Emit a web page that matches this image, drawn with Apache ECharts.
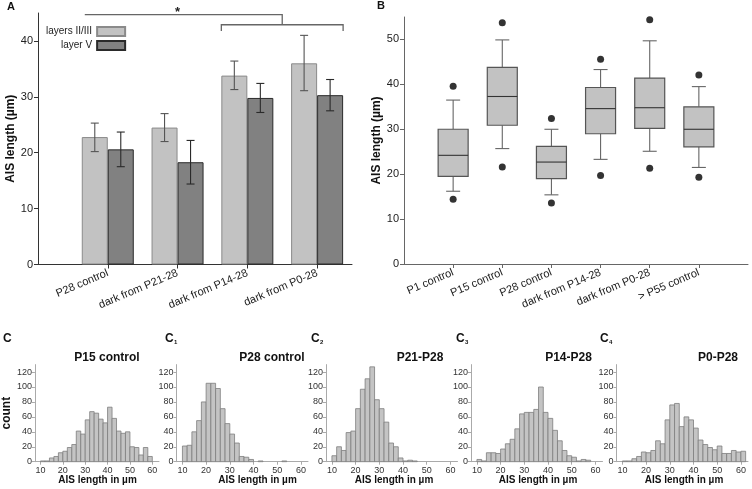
<!DOCTYPE html>
<html><head><meta charset="utf-8">
<script src="https://cdn.jsdelivr.net/npm/echarts@6/dist/echarts.min.js"></script>
<style>html,body{margin:0;padding:0;background:#fff}#c{width:752px;height:489px}</style>
</head><body><div id="c"></div>
<script>
const FONT = "'Liberation Sans', Arial, Helvetica, sans-serif";

// ---------- Panel A: mean AIS length with error bars ----------
const groupsA = ['P28 control', 'dark from P21-28', 'dark from P14-28', 'dark from P0-28'];
const layer23Mean  = [22.8, 24.5, 33.8, 36.0];
const layer23Upper = [25.3, 27.0, 36.4, 41.0];
const layer23Lower = [20.2, 22.0, 31.3, 31.1];
const layer5Mean   = [20.6, 18.3, 29.8, 30.3];
const layer5Upper  = [23.7, 22.2, 32.4, 33.1];
const layer5Lower  = [17.5, 14.4, 27.2, 27.5];
const ticksA = [0, 10, 20, 30, 40];

// ---------- Panel B: box plots ----------
const groupsB = ['P1 control', 'P15 control', 'P28 control', 'dark from P14-28', 'dark from P0-28', '> P55 control'];
const boxMin    = [16.2, 25.7, 15.4, 23.3, 25.1, 21.5];
const boxQ1     = [19.5, 30.9, 19.0, 29.0, 30.2, 26.1];
const boxMedian = [24.2, 37.3, 22.7, 34.6, 34.8, 30.0];
const boxQ3     = [30.0, 43.8, 26.2, 39.3, 41.4, 35.0];
const boxMax    = [36.5, 49.9, 30.0, 43.3, 49.7, 39.5];
const outlierHigh = [39.6, 53.7, 32.4, 45.6, 54.4, 42.1];
const outlierLow  = [14.4, 21.6, 13.6, 19.7, 21.3, 19.3];
const ticksB = [0, 10, 20, 30, 40, 50];

// ---------- Panels C–C4: histograms (2 µm bins starting at 10 µm) ----------
const histTitles = ['P15 control', 'P28 control', 'P21-P28', 'P14-P28', 'P0-P28'];
const histSubs = ['', '1', '2', '3', '4'];
const binStart = 10;
const binWidth = 2;
const countsP15ctrl = [1, 1, 5, 7, 12, 14, 19, 23, 41, 37, 56, 67, 65, 57, 52, 73, 58, 41, 38, 40, 20, 19, 9, 19, 7];
const countsP28ctrl = [21, 22, 40, 55, 80, 105, 105, 98, 71, 51, 37, 25, 7, 6, 3, 0, 1, 0, 0, 0, 0, 1, 0, 0, 0];
const countsP21P28  = [8, 20, 15, 39, 41, 71, 97, 111, 127, 83, 71, 53, 25, 20, 5, 1, 2, 1, 0, 0, 0, 0, 0, 0, 0];
const countsP14P28  = [3, 1, 12, 12, 11, 17, 24, 30, 44, 64, 66, 66, 70, 100, 66, 58, 42, 28, 15, 8, 6, 1, 3, 2, 0];
const countsP0P28   = [1, 1, 4, 7, 13, 12, 15, 28, 24, 56, 76, 78, 47, 60, 56, 45, 29, 23, 19, 16, 21, 11, 11, 15, 13, 14];
const histCounts = [countsP15ctrl, countsP28ctrl, countsP21P28, countsP14P28, countsP0P28];
const histXTicks = [10, 20, 30, 40, 50, 60];
const histYTicks = [0, 20, 40, 60, 80, 100, 120];

// ---------- layout ----------
const histLefts = [27.5, 176.5, 326, 471, 616.5];
const histTitleX = [107, 272, 420, 568.5, 718];
const histNameX = [97.5, 257.5, 394, 538, 684];
const histLetterX = [3, 165, 311, 456, 600];

const chart = echarts.init(document.getElementById('c'));

const grids = [
  { left: 38, top: 13, width: 314, height: 251.5 },
  { left: 404, top: 17, width: 344, height: 247 }
];
histLefts.forEach(l => grids.push({ left: l, top: 364.6, width: 131.5, height: 97.1 }));

const catLabel = { fontSize: 11, color: '#222', fontFamily: FONT, rotate: 23, margin: 8 };
const xAxes = [
  { gridIndex: 0, type: 'value', min: 0, max: 4.5,
    axisLine: { lineStyle: { color: '#333' } },
    axisTick: { customValues: [1, 2, 3, 4], length: 4, lineStyle: { color: '#333' } },
    axisLabel: Object.assign({ customValues: [1, 2, 3, 4], formatter: v => groupsA[Math.round(v) - 1] || '' }, catLabel),
    splitLine: { show: false } },
  { gridIndex: 1, type: 'value', min: 0, max: 7,
    axisLine: { lineStyle: { color: '#666' } },
    axisTick: { customValues: [1, 2, 3, 4, 5, 6], length: 4, lineStyle: { color: '#666' } },
    axisLabel: Object.assign({ customValues: [1, 2, 3, 4, 5, 6], formatter: v => groupsB[Math.round(v) - 1] || '' }, catLabel),
    splitLine: { show: false } }
];
const yAxes = [
  { gridIndex: 0, type: 'value', min: 0, max: 45,
    name: 'AIS length (µm)', nameLocation: 'middle', nameGap: 17,
    nameTextStyle: { fontSize: 12, fontWeight: 'bold', color: '#111', fontFamily: FONT },
    axisLine: { show: true, lineStyle: { color: '#333' } },
    axisTick: { show: true, customValues: ticksA, length: 4, lineStyle: { color: '#333' } },
    axisLabel: { customValues: ticksA, fontSize: 11, color: '#222', fontFamily: FONT, margin: 5 },
    splitLine: { show: false } },
  { gridIndex: 1, type: 'value', min: 0, max: 55,
    name: 'AIS length (µm)', nameLocation: 'middle', nameGap: 18,
    nameTextStyle: { fontSize: 12, fontWeight: 'bold', color: '#111', fontFamily: FONT },
    axisLine: { show: true, lineStyle: { color: '#666' } },
    axisTick: { show: true, customValues: ticksB, length: 4, lineStyle: { color: '#666' } },
    axisLabel: { customValues: ticksB, fontSize: 11, color: '#222', fontFamily: FONT, margin: 5 },
    splitLine: { show: false } }
];
histLefts.forEach((l, i) => {
  xAxes.push({ gridIndex: i + 2, type: 'value', min: 7.5, max: 63,
    axisLine: { lineStyle: { color: '#aaa' } },
    axisTick: { customValues: histXTicks, length: 3, lineStyle: { color: '#aaa' } },
    axisLabel: { customValues: histXTicks, fontSize: 9, color: '#333', fontFamily: FONT, margin: 4 },
    splitLine: { show: false } });
  yAxes.push({ gridIndex: i + 2, type: 'value', min: 0, max: 130,
    name: i === 0 ? 'count' : '', nameLocation: 'middle', nameGap: 14,
    nameTextStyle: { fontSize: 12, fontWeight: 'bold', color: '#111', fontFamily: FONT },
    axisLine: { show: true, lineStyle: { color: '#aaa' } },
    axisTick: { show: true, customValues: histYTicks, length: 3, lineStyle: { color: '#aaa' } },
    axisLabel: { customValues: histYTicks, fontSize: 9, color: '#333', fontFamily: FONT, margin: 3 },
    splitLine: { show: false } });
});

function errorBarSeries(name, lower, upper, offset, color) {
  return {
    type: 'custom', name: name + ' err', xAxisIndex: 0, yAxisIndex: 0, z: 5,
    data: lower.map((lo, i) => [i + 1, lo, upper[i]]),
    renderItem: (params, api) => {
      const x = api.value(0);
      const top = api.coord([x, api.value(2)]);
      const bot = api.coord([x, api.value(1)]);
      const cx = top[0] + offset, hw = 4;
      const st = { stroke: color, lineWidth: 1.1 };
      return { type: 'group', children: [
        { type: 'line', shape: { x1: cx, y1: top[1], x2: cx, y2: bot[1] }, style: st },
        { type: 'line', shape: { x1: cx - hw, y1: top[1], x2: cx + hw, y2: top[1] }, style: st },
        { type: 'line', shape: { x1: cx - hw, y1: bot[1], x2: cx + hw, y2: bot[1] }, style: st }
      ] };
    }
  };
}

const series = [
  { type: 'bar', name: 'layers II/III', xAxisIndex: 0, yAxisIndex: 0, barWidth: 26, barGap: '0%',
    itemStyle: { color: '#c2c2c2', borderColor: '#8a8a8a', borderWidth: 1 },
    data: layer23Mean.map((v, i) => [i + 1, v]) },
  { type: 'bar', name: 'layer V', xAxisIndex: 0, yAxisIndex: 0, barWidth: 26, barGap: '0%',
    itemStyle: { color: '#818181', borderColor: '#2a2a2a', borderWidth: 1 },
    data: layer5Mean.map((v, i) => [i + 1, v]) },
  errorBarSeries('layers II/III', layer23Lower, layer23Upper, -13, '#555'),
  errorBarSeries('layer V', layer5Lower, layer5Upper, 13, '#2a2a2a'),
  { type: 'custom', name: 'box', xAxisIndex: 1, yAxisIndex: 1,
    data: boxMin.map((v, i) => [i + 1, v, boxQ1[i], boxMedian[i], boxQ3[i], boxMax[i]]),
    renderItem: (params, api) => {
      const x = api.value(0);
      const P = v => api.coord([x, v]);
      const cx = P(api.value(3))[0];
      const yMin = P(api.value(1))[1], yQ1 = P(api.value(2))[1], yMed = P(api.value(3))[1],
            yQ3 = P(api.value(4))[1], yMax = P(api.value(5))[1];
      const hb = 15, hc = 7;
      const ws = { stroke: '#666', lineWidth: 1.1 };
      return { type: 'group', children: [
        { type: 'line', shape: { x1: cx, y1: yQ3, x2: cx, y2: yMax }, style: ws },
        { type: 'line', shape: { x1: cx, y1: yQ1, x2: cx, y2: yMin }, style: ws },
        { type: 'line', shape: { x1: cx - hc, y1: yMax, x2: cx + hc, y2: yMax }, style: ws },
        { type: 'line', shape: { x1: cx - hc, y1: yMin, x2: cx + hc, y2: yMin }, style: ws },
        { type: 'rect', shape: { x: cx - hb, y: yQ3, width: 2 * hb, height: yQ1 - yQ3 },
          style: { fill: '#c2c2c2', stroke: '#555', lineWidth: 1.2 } },
        { type: 'line', shape: { x1: cx - hb, y1: yMed, x2: cx + hb, y2: yMed }, style: { stroke: '#333', lineWidth: 1.1 } }
      ] };
    } },
  { type: 'scatter', name: 'outliers', xAxisIndex: 1, yAxisIndex: 1, symbolSize: 7,
    itemStyle: { color: '#000' },
    data: outlierHigh.map((v, i) => [i + 1, v]).concat(outlierLow.map((v, i) => [i + 1, v])) }
];
histCounts.forEach((counts, k) => {
  series.push({
    type: 'custom', name: 'hist' + k, xAxisIndex: k + 2, yAxisIndex: k + 2,
    data: counts.map((c, i) => [binStart + i * binWidth, c]),
    renderItem: (params, api) => {
      const x0 = api.value(0), c = api.value(1);
      if (!c) return null;
      const p0 = api.coord([x0, 0]);
      const p1 = api.coord([x0 + binWidth, c]);
      return { type: 'rect', shape: { x: p0[0], y: p1[1], width: p1[0] - p0[0], height: p0[1] - p1[1] },
        style: { fill: '#c4c4c4', stroke: '#7d7d7d', lineWidth: 0.8 } };
    }
  });
});

const texts = [];
function txt(text, x, y, font, align, vAlign, fill) {
  texts.push({ type: 'text', x: x, y: y, silent: true, z: 10,
    style: { text: text, font: font, fill: fill || '#111', align: align || 'left', verticalAlign: vAlign || 'middle' } });
}
txt('A', 7, 7, 'bold 11px ' + FONT);
txt('B', 377, 6, 'bold 11px ' + FONT);
histTitles.forEach((t, i) => {
  txt('C', histLetterX[i], 339, 'bold 12px ' + FONT);
  if (histSubs[i]) txt(histSubs[i], histLetterX[i] + 9, 345, 'bold 6px ' + FONT, 'left', 'bottom');
  txt(t, histTitleX[i], 357.5, 'bold 12px ' + FONT, 'center');
  txt('AIS length in µm', histNameX[i], 480, 'bold 10px ' + FONT, 'center');
});

const option = {
  animation: false,
  backgroundColor: '#fff',
  textStyle: { fontFamily: FONT },
  grid: grids,
  xAxis: xAxes,
  yAxis: yAxes,
  legend: {
    data: ['layers II/III', 'layer V'], orient: 'vertical', align: 'right',
    left: 46, top: 26, padding: 0, itemWidth: 28, itemHeight: 9, itemGap: 3,
    icon: 'rect', selectedMode: false,
    textStyle: { fontSize: 10, color: '#222', fontFamily: FONT }
  },
  series: series,
  graphic: texts
};
chart.setOption(option);

// significance bracket in panel A, positioned from the axis scale
const pA = (x, y) => chart.convertToPixel({ gridIndex: 0 }, [x, y]);
const g1 = pA(1, 0)[0], g2 = pA(2, 0)[0], g3 = pA(3, 0)[0], g4 = pA(4, 0)[0];
const yTop = pA(0, 44.7)[1], yBr = pA(0, 42.9)[1], yTk = pA(0, 41.8)[1];
const mid = (g3 + g4) / 2;
const bs = { stroke: '#666', lineWidth: 1.3 };
const bracket = [
  { type: 'polyline', silent: true, shape: { points: [[g1 - 23, yTop], [mid, yTop], [mid, yBr]] }, style: Object.assign({ fill: null }, bs) },
  { type: 'polyline', silent: true, shape: { points: [[g3 - 26, yTk], [g3 - 26, yBr], [g4 + 26, yBr], [g4 + 26, yTk]] }, style: Object.assign({ fill: null }, bs) },
  { type: 'text', silent: true, x: g2, y: yTop - 2, style: { text: '*', font: 'bold 13px ' + FONT, fill: '#222', align: 'center', verticalAlign: 'middle' } }
];
chart.setOption({ graphic: texts.concat(bracket) });
</script></body></html>
